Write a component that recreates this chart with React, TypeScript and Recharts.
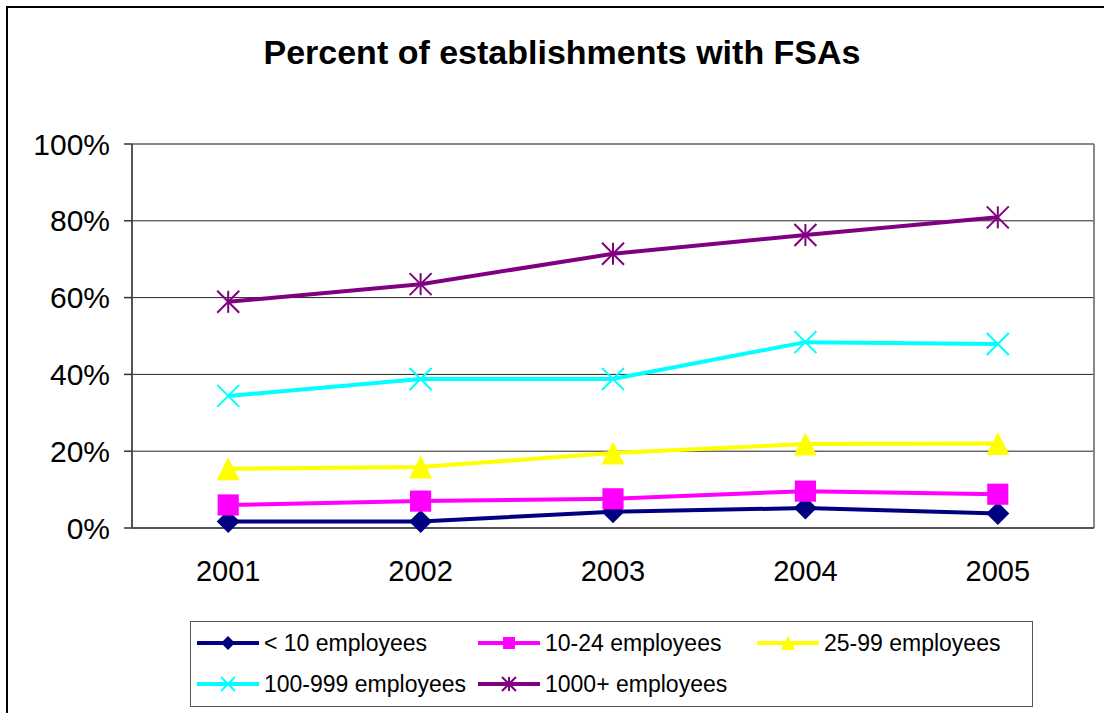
import React from 'react';
import { LineChart, Line, XAxis, YAxis, CartesianGrid, ReferenceLine, Legend } from 'recharts';

const years = [2001, 2002, 2003, 2004, 2005];
const under10 = [0.017, 0.017, 0.042, 0.052, 0.038];
const emp10to24 = [0.06, 0.07, 0.076, 0.096, 0.088];
const emp25to99 = [0.154, 0.159, 0.195, 0.219, 0.22];
const emp100to999 = [0.344, 0.388, 0.388, 0.484, 0.479];
const emp1000plus = [0.589, 0.635, 0.714, 0.763, 0.809];
const yTicks = [0, 0.2, 0.4, 0.6, 0.8, 1];
const boundaryTicks = [2000.5, 2001.5, 2002.5, 2003.5, 2004.5, 2005.5];

const data = years.map((y, i) => ({
  year: y,
  a: under10[i],
  b: emp10to24[i],
  c: emp25to99[i],
  d: emp100to999[i],
  e: emp1000plus[i],
}));

const FONT = '"Liberation Sans", Arial, Helvetica, sans-serif';

type Shape = 'diamond' | 'square' | 'triangle' | 'x' | 'star';

function marker(shape: Shape, cx: number, cy: number, r: number, color: string, key?: string) {
  switch (shape) {
    case 'diamond':
      return <polygon key={key} points={`${cx},${cy - r} ${cx + r},${cy} ${cx},${cy + r} ${cx - r},${cy}`} fill={color} />;
    case 'square':
      return <rect key={key} x={cx - r * 0.92} y={cy - r * 0.92} width={r * 1.84} height={r * 1.84} fill={color} />;
    case 'triangle':
      return <polygon key={key} points={`${cx},${cy - r} ${cx + r},${cy + r} ${cx - r},${cy + r}`} fill={color} />;
    case 'x':
      return (
        <g key={key} stroke={color} strokeWidth={2}>
          <line x1={cx - r} y1={cy - r} x2={cx + r} y2={cy + r} />
          <line x1={cx - r} y1={cy + r} x2={cx + r} y2={cy - r} />
        </g>
      );
    case 'star':
    default:
      return (
        <g key={key} stroke={color} strokeWidth={2}>
          <line x1={cx - r} y1={cy - r} x2={cx + r} y2={cy + r} />
          <line x1={cx - r} y1={cy + r} x2={cx + r} y2={cy - r} />
          <line x1={cx} y1={cy - r} x2={cx} y2={cy + r} />
        </g>
      );
  }
}

const makeDot = (shape: Shape, color: string, r: number) => (props: any) => {
  const { cx, cy, index } = props;
  if (cx == null || cy == null) return <g key={`e-${index}`} />;
  return marker(shape, cx, cy, r, color, `${shape}-${index}`);
};

const seriesDefs: { key: string; name: string; color: string; shape: Shape; r: number; lr: number }[] = [
  { key: 'a', name: '< 10 employees', color: '#000080', shape: 'diamond', r: 11.5, lr: 7 },
  { key: 'b', name: '10-24 employees', color: '#FF00FF', shape: 'square', r: 11.5, lr: 6.5 },
  { key: 'c', name: '25-99 employees', color: '#FFFF00', shape: 'triangle', r: 11.5, lr: 7 },
  { key: 'd', name: '100-999 employees', color: '#00FFFF', shape: 'x', r: 11, lr: 7 },
  { key: 'e', name: '1000+ employees', color: '#800080', shape: 'star', r: 11, lr: 7 },
];

const legendPos = [
  { left: 6, top: 9 },
  { left: 287, top: 9 },
  { left: 566, top: 9 },
  { left: 6, top: 50 },
  { left: 287, top: 50 },
];

const LW = 62;

const renderLegend = () => (
  <div
    style={{
      position: 'relative',
      width: 843,
      height: 86,
      boxSizing: 'border-box',
      border: '1.5px solid #555',
      background: '#fff',
    }}
  >
    {seriesDefs.map((s, i) => (
      <div
        key={s.key}
        style={{
          position: 'absolute',
          left: legendPos[i].left,
          top: legendPos[i].top,
          height: 24,
          display: 'flex',
          alignItems: 'center',
          whiteSpace: 'nowrap',
        }}
      >
        <svg width={LW} height={24} style={{ display: 'block' }}>
          <line x1={0} y1={12} x2={LW} y2={12} stroke={s.color} strokeWidth={4} />
          {marker(s.shape, LW / 2, 12, s.lr, s.color)}
        </svg>
        <span style={{ marginLeft: 5, fontFamily: FONT, fontSize: 23, color: '#000' }}>{s.name}</span>
      </div>
    ))}
  </div>
);

export default function App() {
  return (
    <div
      style={{
        position: 'absolute',
        left: 0,
        top: 0,
        width: 1104,
        height: 713,
        overflow: 'hidden',
        background: '#fff',
      }}
    >
      <div
        style={{
          position: 'absolute',
          left: 6,
          top: 6,
          width: 1200,
          height: 800,
          borderLeft: '2px solid #000',
          borderTop: '2px solid #000',
          pointerEvents: 'none',
        }}
      />
      <div
        style={{
          position: 'absolute',
          left: 0,
          top: 33,
          width: 1124,
          textAlign: 'center',
          fontFamily: FONT,
          fontWeight: 'bold',
          fontSize: 34,
          color: '#000',
        }}
      >
        Percent of establishments with FSAs
      </div>
      <LineChart width={1104} height={713} data={data} margin={{ top: 144, right: 10, bottom: 6, left: 0 }}>
        <CartesianGrid xAxisId="cat" horizontal vertical={false} stroke="#222" strokeWidth={1} />
        <XAxis
          xAxisId="marks"
          type="number"
          dataKey="year"
          domain={[2000.5, 2005.5]}
          ticks={boundaryTicks}
          tick={false}
          tickSize={8}
          tickLine={{ stroke: '#555', strokeWidth: 1.5 }}
          axisLine={false}
          height={0}
          allowDataOverflow
        />
        <XAxis
          xAxisId="cat"
          type="number"
          dataKey="year"
          domain={[2000.5, 2005.5]}
          ticks={years}
          tickFormatter={(v: number) => String(v)}
          tickLine={false}
          tickSize={0}
          tickMargin={32}
          axisLine={{ stroke: '#555', strokeWidth: 2 }}
          tick={{ fontFamily: FONT, fontSize: 29, fill: '#000' }}
          height={93}
          allowDataOverflow
        />
        <YAxis
          domain={[0, 1]}
          ticks={yTicks}
          tickFormatter={(v: number) => `${Math.round(v * 100)}%`}
          width={132}
          tickSize={8}
          tickMargin={14}
          tickLine={{ stroke: '#333', strokeWidth: 1.5 }}
          axisLine={{ stroke: '#555', strokeWidth: 2 }}
          tick={{ fontFamily: FONT, fontSize: 30, fill: '#000' }}
        />
        <ReferenceLine xAxisId="cat" y={1} stroke="#888" strokeWidth={2} />
        <ReferenceLine xAxisId="cat" x={2005.5} stroke="#888" strokeWidth={2} ifOverflow="visible" />
        {seriesDefs.map((s) => (
          <Line
            key={s.key}
            xAxisId="cat"
            dataKey={s.key}
            name={s.name}
            stroke={s.color}
            strokeWidth={4}
            dot={makeDot(s.shape, s.color, s.r)}
            activeDot={false}
            isAnimationActive={false}
          />
        ))}
        <Legend verticalAlign="bottom" content={renderLegend} wrapperStyle={{ left: 190, width: 843, bottom: 6 }} />
      </LineChart>
    </div>
  );
}
